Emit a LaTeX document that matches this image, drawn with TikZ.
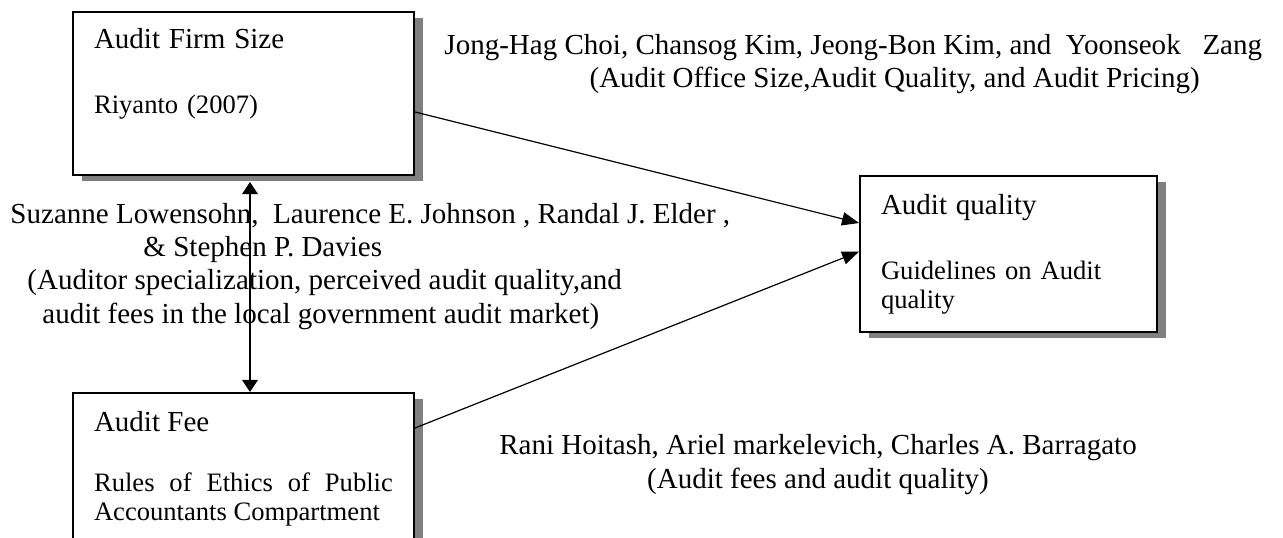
\documentclass[tikz,border=0pt]{standalone}
\usepackage{fontspec}
\setmainfont{Liberation Serif}
\usetikzlibrary{shadows,arrows.meta}
\newcommand{\headfont}{\fontsize{12}{14}\selectfont}
\newcommand{\notefont}{\fontsize{11}{12}\selectfont}
\newcommand{\citefont}{\fontsize{12}{13.65}\selectfont}
\tikzset{
  factor/.style={draw,line width=0.8pt,fill=white,drop shadow={shadow xshift=3.7pt,shadow yshift=-2.5pt,fill=black!50,opacity=1},anchor=north west,align=left,inner xsep=8.7pt,inner ysep=7.3pt,text height=8.8pt,font=\notefont},
  study/.style={anchor=base west,align=left,inner sep=0pt,font=\citefont},
  link/.style={line width=0.5pt,-{Triangle[length=7pt,width=5.5pt]}},
  twoway/.style={line width=0.5pt,{Triangle[length=5pt,width=6.5pt]}-{Triangle[length=5pt,width=6.5pt]}}
}

\begin{document}
\begin{tikzpicture}[x=0.4135pt,y=-0.4135pt]
  \useasboundingbox (0,0) rectangle (1283,538);
  \clip (0,0) rectangle (1283,538);
  \node[factor,text width=123.6pt,text height=7.6pt,text depth=45.2pt] (size) at (72,11) {{\headfont Audit Firm Size}\\[14.9pt]Riyanto (2007)};
  \node[factor,text width=105.4pt,text depth=41.1pt] (quality) at (859,175) {{\headfont Audit quality}\\[14.9pt]Guidelines on Audit\\quality};
  \node[factor,text width=123.6pt,text depth=60pt,align=justify] (fee) at (72,392) {{\headfont Audit Fee}\\[12.8pt]Rules of Ethics of Public\linebreak Accountants Compartment};
  \node[study] (choi) at (444,88) {Jong-Hag Choi, Chansog Kim, Jeong-Bon Kim, and\ \ Yoonseok\ \ \ Zang\\\hspace*{60pt}(Audit Office Size,Audit Quality, and Audit Pricing)};
  \node[study] (lowensohn) at (10,323) {Suzanne Lowensohn,\ \ Laurence E. Johnson , Randal J. Elder ,\\\hspace*{55pt}\& Stephen P. Davies\\\hspace*{7pt}(Auditor specialization, perceived audit quality,and\\\hspace*{13.2pt}audit fees in the local government audit market)};
  \node[study,anchor=base,align=center] (hoitash) at (818,488) {Rani Hoitash, Ariel markelevich, Charles A. Barragato\\(Audit fees and audit quality)};
  \draw[twoway] ([xshift=2.7pt,yshift=-2.5pt]size.south) -- ([xshift=2.7pt]fee.north);
  \draw[link] ([yshift=-7.65pt]size.east) -- ([yshift=12.8pt]quality.west);
  \draw[link] ([yshift=-14.9pt]fee.north east) -- ([yshift=0.95pt]quality.west);
\end{tikzpicture}
\end{document}
